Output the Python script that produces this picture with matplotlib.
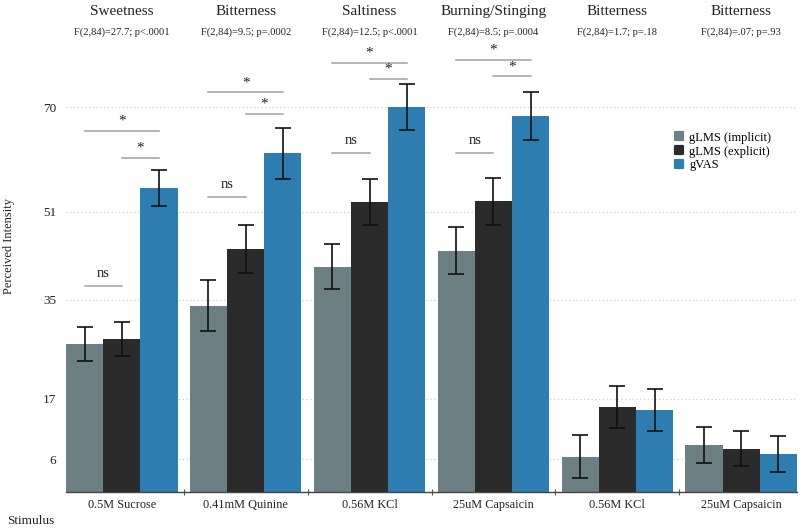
import matplotlib
matplotlib.use("Agg")
import matplotlib.pyplot as plt
import numpy as np
from matplotlib.markers import MarkerStyle
from matplotlib.lines import Line2D

plt.rcParams['font.family'] = ['Liberation Serif', 'DejaVu Serif']

stimuli = ['0.5M Sucrose', '0.41mM Quinine', '0.56M KCl', '25uM Capsaicin', '0.56M KCl', '25uM Capsaicin']
qualities = ['Sweetness', 'Bitterness', 'Saltiness', 'Burning/Stinging', 'Bitterness', 'Bitterness']
stats = ['F(2,84)=27.7; p<.0001', 'F(2,84)=9.5; p=.0002', 'F(2,84)=12.5; p<.0001',
         'F(2,84)=8.5; p=.0004', 'F(2,84)=1.7; p=.18', 'F(2,84)=.07; p=.93']
series = ['gLMS (implicit)', 'gLMS (explicit)', 'gVAS']
implicit = [27.0, 33.9, 41.0, 43.9, 6.4, 8.6]
explicit = [27.8, 44.2, 52.8, 52.9, 15.5, 7.9]
gvas = [55.3, 61.6, 70.1, 68.4, 14.9, 6.9]
err_implicit = [3.1, 4.6, 4.15, 4.25, 3.9, 3.25]
err_explicit = [3.1, 4.45, 4.15, 4.3, 3.8, 3.2]
err_gvas = [3.2, 4.6, 4.2, 4.3, 3.85, 3.25]
yticks = [6, 17, 35, 51, 70]
# (group, left series, right series, height, label)
brackets = [(0, 0, 1, 37.5, 'ns'), (0, 0, 2, 65.7, '*'), (0, 1, 2, 60.7, '*'),
            (1, 0, 1, 53.7, 'ns'), (1, 0, 2, 72.7, '*'), (1, 1, 2, 68.7, '*'),
            (2, 0, 1, 61.7, 'ns'), (2, 0, 2, 78.1, '*'), (2, 1, 2, 75.1, '*'),
            (3, 0, 1, 61.7, 'ns'), (3, 0, 2, 78.6, '*'), (3, 1, 2, 75.6, '*')]

colors = ['#6c8084', '#2b2b2b', '#2e7db0']
values = [implicit, explicit, gvas]
errors = [err_implicit, err_explicit, err_gvas]

fig = plt.figure(figsize=(8, 5.28), dpi=100)
ax = fig.add_axes([66/800, 36/528, 731/800, 492/528])

x = np.arange(len(stimuli))
w = 0.3
offsets = [-w, 0, w]
for k in range(3):
    ax.bar(x + offsets[k], values[k], width=w, color=colors[k], label=series[k], zorder=2)
    ax.errorbar(x + offsets[k], values[k], yerr=errors[k], fmt='none', ecolor='#111111',
                elinewidth=1.2, capsize=5.5, capthick=1.2, zorder=3)

for g, a, b, h, lab in brackets:
    x0 = g + offsets[a]
    x1 = g + offsets[b]
    ax.plot([x0, x1], [h, h], color='#a0a0a0', lw=1.1, zorder=2)
    if lab == '*':
        ax.text((x0 + x1) / 2, h + 0.6, lab, ha='center', va='bottom', fontsize=11, color='#222222')
    else:
        ax.text((x0 + x1) / 2, h + 1.0, lab, ha='center', va='bottom', fontsize=10.5, color='#222222')

for i in range(len(stimuli)):
    ax.text(i, 87.4, qualities[i], ha='center', va='center', fontsize=11, color='#222222')
    ax.text(i, 83.6, stats[i], ha='center', va='center', fontsize=7.6, color='#222222')

ax.set_xlim(-0.45, 5.45)
ax.set_ylim(0, 89.5)
ax.set_yticks(yticks)
ax.set_yticklabels([str(t) for t in yticks], fontsize=9.5, color='#222222')
ax.set_xticks(x)
ax.set_xticklabels(stimuli, fontsize=8.8, color='#222222')
ax.set_xticks(x[:-1] + 0.5, minor=True)
ax.tick_params(axis='x', which='major', length=0, pad=5)
ax.tick_params(axis='x', which='minor', length=5, direction='inout', color='#555555', width=0.8)
ax.tick_params(axis='y', length=0, pad=7)
ax.grid(axis='y', linestyle=(0, (1, 2)), color='#cccccc', lw=0.9, zorder=0)
ax.set_axisbelow(True)
for s in ['top', 'right', 'left']:
    ax.spines[s].set_visible(False)
ax.spines['bottom'].set_color('#444444')
ax.spines['bottom'].set_linewidth(1.0)

fig.text(9/800, 1 - 246/528, 'Perceived Intensity', rotation=90, ha='center', va='center',
         fontsize=9, color='#222222')
fig.text(7/800, 1 - 521/528, 'Stimulus', ha='left', va='center', fontsize=9.5, color='#222222')

handles = [Line2D([], [], linestyle='none', marker=MarkerStyle('s', joinstyle='round'),
                  markersize=6.0, markerfacecolor=c, markeredgecolor=c, markeredgewidth=1.6)
           for c in colors]
ax.legend(handles, series, loc='upper left', bbox_to_anchor=(0.823, 0.745), frameon=False,
          fontsize=9, handlelength=0.8, handletextpad=0.45, labelspacing=0.15, borderpad=0)

fig.savefig('out.png', dpi=100)
